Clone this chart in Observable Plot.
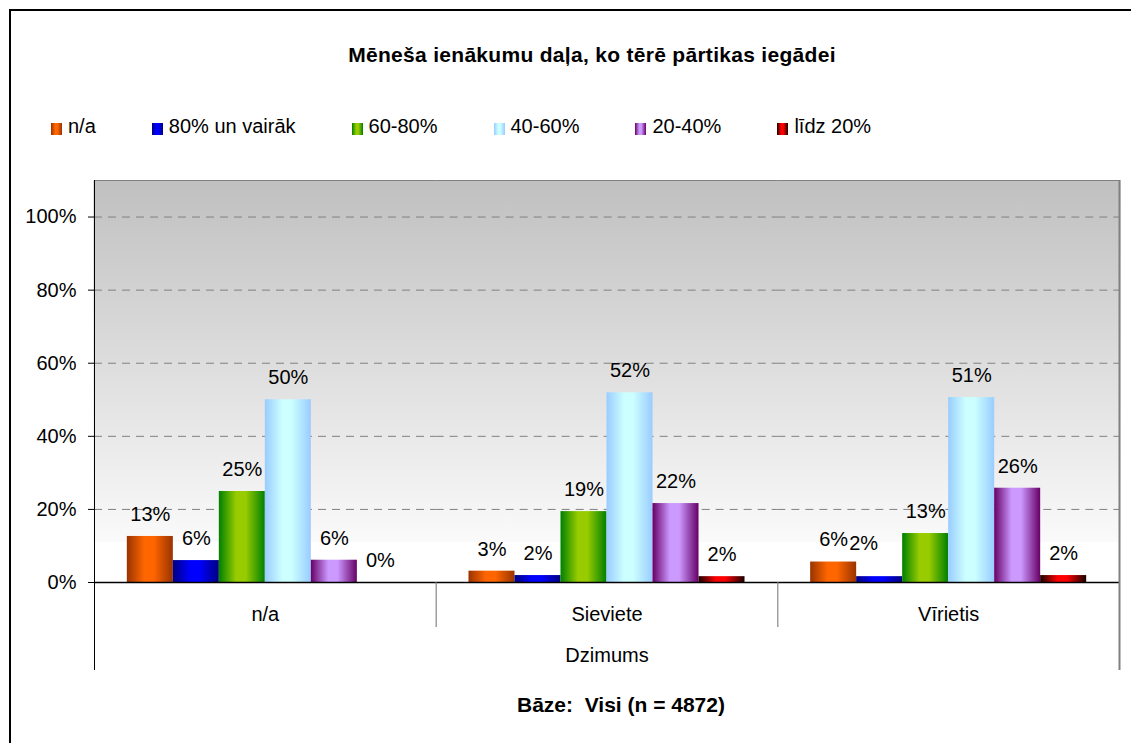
<!DOCTYPE html>
<html>
<head>
<meta charset="utf-8">
<script src="https://cdn.jsdelivr.net/npm/d3@7"></script>
<script src="https://cdn.jsdelivr.net/npm/@observablehq/plot@0.6"></script>
<style>
  html, body { margin: 0; padding: 0; background: #fff; overflow: hidden; }
  #root { position: relative; width: 1131px; height: 743px; overflow: hidden;
          font-family: "Liberation Sans", Arial, sans-serif; color: #000; background: #fff; }
  #border { position: absolute; left: 9px; top: 9px; width: 1300px; height: 900px;
            border-left: 2px solid #000; border-top: 2px solid #000; }
  #title { position: absolute; top: 43px; left: 592px; transform: translateX(-50%);
           white-space: nowrap; font-weight: bold; font-size: 21px; line-height: 24px; letter-spacing: 0.3px; }
  #legend { position: absolute; top: 114px; left: 51px; display: flex; column-gap: 56px;
            font-size: 20px; line-height: 24px; white-space: nowrap; }
  .item { display: flex; align-items: flex-start; }
  .sw { width: 11px; height: 12px; margin-top: 9px; margin-right: 6px; }
  #chart { position: absolute; left: 0; top: 160px; }
  #caption { position: absolute; top: 693px; left: 621px; transform: translateX(-50%);
             white-space: pre; font-weight: bold; font-size: 21px; line-height: 24px; }
</style>
</head>
<body>
<div id="root">
  <div id="border"></div>
  <div id="title"></div>
  <div id="legend"></div>
  <div id="chart"></div>
  <div id="caption"></div>
  <svg id="defs" width="0" height="0" style="position:absolute;left:0;top:0"><defs></defs></svg>
</div>
<script>
// ---------- data ----------
const titleText = "Mēneša ienākumu daļa, ko tērē pārtikas iegādei";
const captionText = "Bāze:  Visi (n = 4872)";
const axisTitle = "Dzimums";
const groups = ["n/a", "Sieviete", "Vīrietis"];
const series = ["n/a", "80% un vairāk", "60-80%", "40-60%", "20-40%", "līdz 20%"];
const valuesNA = [12.6, 6.0, 24.9, 50.0, 6.1, 0.0];
const valuesSieviete = [3.1, 1.9, 19.4, 51.9, 21.6, 1.6];
const valuesVirietis = [5.6, 1.6, 13.4, 50.6, 25.8, 1.9];
const yTicks = [0, 20, 40, 60, 80, 100];
const edgeColors = ["#993300", "#000080", "#008000", "#99ccff", "#660066", "#1a0000"];
const centerColors = ["#ff6600", "#0000ff", "#99cc00", "#ccffff", "#cc99ff", "#ff0000"];

const groupValues = [valuesNA, valuesSieviete, valuesVirietis];
const data = groups.flatMap((g, gi) =>
  groupValues[gi].map((v, si) => ({group: g, series: series[si], value: v})));

// ---------- gradients ----------
const defs = document.querySelector("#defs defs");
const NS = "http://www.w3.org/2000/svg";
function addGradient(id, vertical, stops) {
  const lg = document.createElementNS(NS, "linearGradient");
  lg.setAttribute("id", id);
  lg.setAttribute("x1", 0); lg.setAttribute("y1", 0);
  lg.setAttribute("x2", vertical ? 0 : 1); lg.setAttribute("y2", vertical ? 1 : 0);
  for (const [o, c] of stops) {
    const s = document.createElementNS(NS, "stop");
    s.setAttribute("offset", o); s.setAttribute("stop-color", c);
    lg.appendChild(s);
  }
  defs.appendChild(lg);
}
addGradient("bgGrad", true, [[0, "#c0c0c0"], [0.9, "#fafafa"], [0.9, "#ffffff"], [1, "#ffffff"]]);
series.forEach((s, i) => addGradient(`bar${i}`, false,
  [[0, edgeColors[i]], [0.38, centerColors[i]], [0.58, centerColors[i]], [1, edgeColors[i]]]));

// ---------- title, legend, caption ----------
document.getElementById("title").textContent = titleText;
document.getElementById("caption").textContent = captionText;
const legend = document.getElementById("legend");
series.forEach((s, i) => {
  const item = document.createElement("div");
  item.className = "item";
  const sw = document.createElement("div");
  sw.className = "sw";
  sw.style.background = `linear-gradient(to right, ${edgeColors[i]}, ${centerColors[i]} 38%, ${centerColors[i]} 58%, ${edgeColors[i]})`;
  const t = document.createElement("span");
  t.textContent = s;
  item.append(sw, t);
  legend.appendChild(item);
});

// ---------- chart ----------
const W = 1131, H = 530, ML = 94, MR = 12, MT = 20, MB = 108;
const YMAX = 110;
const PO = 0.7135;
const facetW = (W - ML - MR) / groups.length;
const step = facetW / (series.length + 2 * PO);
const edgeDx = step / 2 + PO * step;
const pxPerUnit = (H - MT - MB) / YMAX;
const sepLow = -45 / pxPerUnit;
const frameLow = -88 / pxPerUnit;
const isMoved = d => d.group === "Vīrietis" && d.series === "80% un vairāk";
const fmt = d => Math.round(d.value) + "%";

const chart = Plot.plot({
  width: W, height: H,
  marginLeft: ML, marginRight: MR, marginTop: MT, marginBottom: MB,
  style: {fontFamily: '"Liberation Sans", Arial, sans-serif', fontSize: "20px", color: "#000", background: "transparent", overflow: "visible"},
  fx: {domain: groups, padding: 0, round: false},
  x: {domain: series, paddingInner: 0, paddingOuter: PO, round: false, axis: null},
  y: {domain: [0, YMAX]},
  color: {domain: series, range: series.map((_, i) => `url(#bar${i})`)},
  marks: [
    Plot.frame({fill: "url(#bgGrad)", stroke: "none", insetLeft: -1, insetRight: -1}),
    Plot.gridY(yTicks.filter(t => t > 0), {stroke: "#808080", strokeOpacity: 1, strokeDasharray: "8,6"}),
    Plot.ruleY([YMAX], {stroke: "#808080"}),
    Plot.barY(data, {fx: "group", x: "series", y: "value", fill: "series"}),
    Plot.ruleY([0], {stroke: "#000", strokeWidth: 1.3}),
    Plot.ruleX(groups.slice(1), {fx: d => d, x: () => series[0], dx: -edgeDx, y1: 0, y2: sepLow, stroke: "#707070"}),
    Plot.ruleX([groups[0]], {fx: d => d, x: () => series[0], dx: -edgeDx, y1: YMAX, y2: frameLow, stroke: "#000"}),
    Plot.ruleX([groups[groups.length - 1]], {fx: d => d, x: () => series[series.length - 1], dx: edgeDx, y1: YMAX, y2: frameLow, stroke: "#808080", strokeWidth: 2}),
    Plot.text(data, {filter: d => !isMoved(d), fx: "group", x: "series", y: "value", text: fmt, dy: -22, lineAnchor: "middle", fontSize: 20, fill: "#000"}),
    Plot.text(data, {filter: isMoved, fx: "group", x: "series", y: "value", text: fmt, dx: -16, dy: -33, lineAnchor: "middle", fontSize: 20, fill: "#000"}),
    Plot.axisY({ticks: yTicks, tickFormat: d => d + "%", tickSize: 6, tickPadding: 12, fontSize: 20, label: null}),
    Plot.axisFx({anchor: "bottom", tickSize: 0, tickPadding: 24, fontSize: 20, label: axisTitle, labelAnchor: "center", labelOffset: 79})
  ]
});
document.getElementById("chart").appendChild(chart);
</script>
</body>
</html>
